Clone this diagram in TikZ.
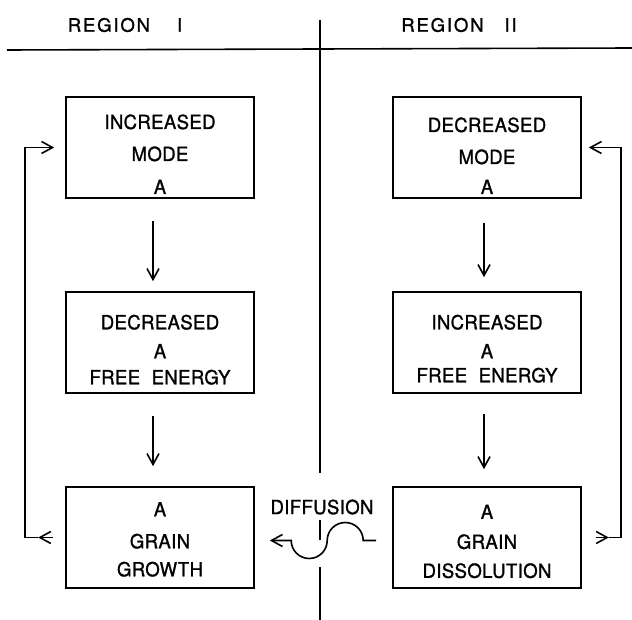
\documentclass[tikz,border=0pt]{standalone}
\usepackage{fontspec}
\setmainfont{TeX Gyre Heros}[FakeStretch=0.95,LetterSpace=2,FakeBold=1.2]
\newfontfamily\headfont{TeX Gyre Heros}[LetterSpace=10,FakeBold=1.2]
\usetikzlibrary{arrows.meta,calc}
\tikzstyle{box}=[draw, line width=1.6pt, minimum width=188pt, minimum height=101pt, inner sep=0pt, align=center, font=\fontsize{19.5}{20}\selectfont]
\tikzstyle{arrow}=[draw, line width=1.6pt, -{Straight Barb[length=11pt,width=12pt]}]
\tikzstyle{rule}=[draw, line width=1.6pt]
\newcommand{\lift}[1]{\rule{0pt}{#1pt}}

\begin{document}
\begin{tikzpicture}[x=1pt, y=-1pt, node distance=195pt]
\useasboundingbox (0,0) rectangle (632,620);

\node (regone) at (125,25) [font=\headfont\fontsize{18.5}{20}\selectfont] {REGION\hspace{27pt}I};
\node (regtwo) at (459,25) [font=\headfont\fontsize{18.5}{20}\selectfont] {REGION\hspace{21pt}II};

\node [box] (incmode) at (160,147.5) {\lift{28}INCREASED\\[12pt]MODE\\[13pt]A};
\node [box, below of=incmode] (decfree) {\lift{29}DECREASED\\[9pt]A\\[6pt]FREE\hspace{6pt} ENERGY};
\node [box, below of=decfree] (growth) {\lift{18}A\\[12pt]GRAIN\\[8pt]GROWTH};

\node [box, right of=incmode, node distance=327pt] (decmode) {\lift{31}DECREASED\\[12pt]MODE\\[10pt]A};
\node [box, below of=decmode] (incfree) {\lift{27}INCREASED\\[9pt]A\\[4pt]FREE\hspace{6pt} ENERGY};
\node [box, below of=incfree] (dissol) {\lift{22}A\\[10pt]GRAIN\\[9pt]DISSOLUTION};

\node (diff) at (322,507) [font=\fontsize{19.5}{20}\selectfont] {DIFFUSION};

% dividing lines
\draw [rule] (7,50) -- (632,48);
\draw [rule] (320,20) -- (320,473);
\draw [rule] (320,520) -- (320,540);
\draw [rule] (320,567) -- (320,620);

\draw [arrow, shorten <=22pt, shorten >=10pt] ([xshift=-7pt]incmode.south) -- ([xshift=-7pt]decfree.north);
\draw [arrow, shorten <=22pt, shorten >=20pt] ([xshift=-7pt]decfree.south) -- ([xshift=-7pt]growth.north);
\draw [arrow, shorten <=24pt, shorten >=14pt] ([xshift=-3pt]decmode.south) -- ([xshift=-3pt]incfree.north);
\draw [arrow, shorten <=20pt, shorten >=17pt] ([xshift=-3pt]incfree.south) -- ([xshift=-3pt]dissol.north);

% feedback loops
\draw [arrow] ([xshift=-12pt]growth.west) -- ([xshift=-27pt]growth.west);
\draw [arrow] ([xshift=-27pt]growth.west) -- ++(-13,0) |- ([xshift=-11pt]incmode.west);
\draw [arrow] ([xshift=14pt]dissol.east) -- ([xshift=27pt]dissol.east);
\draw [arrow] ([xshift=27pt]dissol.east) -- ++(12,0) |- ([xshift=7pt]decmode.east);

% diffusion
\draw [arrow, shorten <=16pt, shorten >=15pt] ([yshift=-3pt]dissol.west) -- ++(-29,0) arc (0:-180:18) arc (0:180:18) -- ([yshift=-3pt]growth.east);

\end{tikzpicture}
\end{document}
